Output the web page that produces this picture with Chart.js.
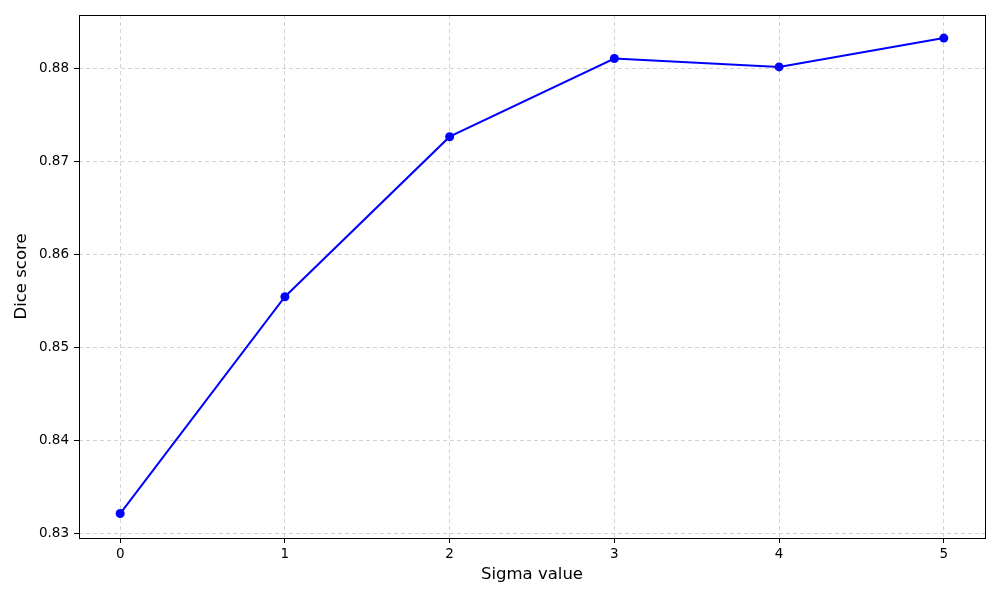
<!DOCTYPE html>
<html>
<head>
<meta charset="utf-8">
<script src="https://cdn.jsdelivr.net/npm/chart.js@4"></script>
<style>
  html, body { margin: 0; padding: 0; background: #fff; }
  #wrap { width: 1000px; height: 600px; }
</style>
</head>
<body>
<div id="wrap"><canvas id="diceChart" width="1000" height="600"></canvas></div>
<script>
// values
const sigmaValues = [0, 1, 2, 3, 4, 5];
const diceScores = [0.8322, 0.8555, 0.8727, 0.8811, 0.8802, 0.8833];
const xTickValues = [0, 1, 2, 3, 4, 5];
const yTickValues = [0.83, 0.84, 0.85, 0.86, 0.87, 0.88];

const fontFamily = "'DejaVu Sans', sans-serif";

// full black frame round the plot area (matplotlib style)
const frame = {
    id: 'frame',
    afterDraw(chart) {
        const a = chart.chartArea;
        const ctx = chart.ctx;
        ctx.save();
        ctx.strokeStyle = '#000';
        ctx.lineWidth = 1;
        ctx.strokeRect(Math.round(a.left) + 0.5, Math.round(a.top) + 0.5,
            Math.round(a.right - a.left), Math.round(a.bottom - a.top));
        ctx.restore();
    }
};

const points = sigmaValues.map((s, i) => ({ x: s, y: diceScores[i] }));

new Chart(document.getElementById('diceChart'), {
    type: 'line',
    data: {
        datasets: [{
            data: points,
            borderColor: '#0000ff',
            backgroundColor: '#0000ff',
            borderWidth: 2,
            pointRadius: 4.5,
            pointHoverRadius: 4.5,
            pointBorderWidth: 0,
            tension: 0,
            fill: false
        }]
    },
    options: {
        responsive: false,
        animation: false,
        events: [],
        layout: { padding: { top: 15, right: 15, left: 0, bottom: 0 } },
        plugins: {
            legend: { display: false },
            tooltip: { enabled: false }
        },
        scales: {
            x: {
                type: 'linear',
                min: -0.25,
                max: 5.25,
                afterBuildTicks(axis) {
                    axis.ticks = xTickValues.map(v => ({ value: v }));
                },
                afterFit(axis) { axis.height = 62; },
                grid: {
                    color: '#c8c8c8',
                    lineWidth: 0.8,
                    tickColor: '#000',
                    tickLength: 5,
                    tickWidth: 1,
                    tickBorderDash: []
                },
                border: { display: false, dash: [4, 3] },
                ticks: {
                    color: '#000',
                    padding: 3,
                    maxRotation: 0,
                    font: { family: fontFamily, size: 13.5 },
                    callback: v => String(v)
                },
                title: {
                    display: true,
                    text: 'Sigma value',
                    color: '#000',
                    font: { family: fontFamily, size: 16.5 },
                    padding: { top: 0, bottom: 15 }
                }
            },
            y: {
                type: 'linear',
                min: 0.82957,
                max: 0.88578,
                afterBuildTicks(axis) {
                    axis.ticks = yTickValues.map(v => ({ value: v }));
                },
                afterFit(axis) { axis.width = 79; },
                grid: {
                    color: '#c8c8c8',
                    lineWidth: 0.8,
                    tickColor: '#000',
                    tickLength: 5,
                    tickWidth: 1,
                    tickBorderDash: []
                },
                border: { display: false, dash: [4, 3] },
                ticks: {
                    color: '#000',
                    padding: 5,
                    font: { family: fontFamily, size: 13.5 },
                    callback: v => v.toFixed(2)
                },
                title: {
                    display: true,
                    text: 'Dice score',
                    color: '#000',
                    font: { family: fontFamily, size: 16.5 },
                    padding: { top: 12, bottom: 0 }
                }
            }
        }
    },
    plugins: [frame]
});
</script>
</body>
</html>
